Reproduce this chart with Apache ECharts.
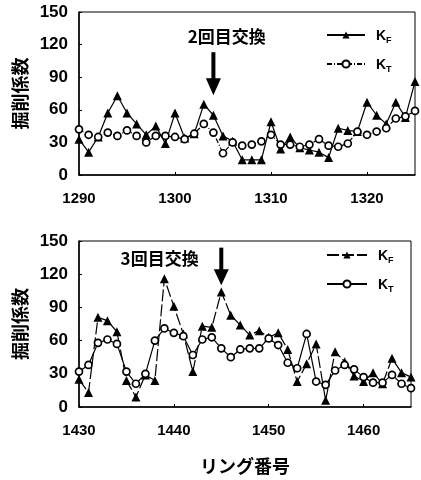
<!DOCTYPE html>
<html><head><meta charset="utf-8">
<script src="https://cdn.jsdelivr.net/npm/echarts@6/dist/echarts.min.js"></script>
<style>html,body{margin:0;padding:0;background:#fff}#c{width:421px;height:480px}</style>
</head><body><div id="c"></div>
<script>
var ringsTop = [1290,1291,1292,1293,1294,1295,1296,1297,1298,1299,1300,1301,1302,1303,1304,1305,1306,1307,1308,1309,1310,1311,1312,1313,1314,1315,1316,1317,1318,1319,1320,1321,1322,1323,1324,1325];
var kfTop = [33,21,35,57,73,57,47,37,45,29,57,34,38,65,55,36,31,14,14,14,49,24,35,25,23,21,16,43,41,40,67,55,47,67,53,86];
var ktTop = [42,37,35,39,36,41,36,30,36,36,35,33,38,47,39,20,30,27,28,31,37,28,28,26,28,33,27,26,29,40,37,40,43,52,54,59];

var ringsBot = [1430,1431,1432,1433,1434,1435,1436,1437,1438,1439,1440,1441,1442,1443,1444,1445,1446,1447,1448,1449,1450,1451,1452,1453,1454,1455,1456,1457,1458,1459,1460,1461,1462,1463,1464,1465];
var kfBot = [25,13,81,78,68,24,9,29,24,116,91,66,32,73,72,104,83,74,65,69,63,67,52,23,39,57,6,50,41,28,23,31,21,44,31,27];
var ktBot = [32,38,58,61,57,32,21,30,60,71,67,64,47,61,63,53,45,52,53,53,62,56,40,35,66,23,20,33,38,34,27,22,22,29,21,17];

var yTicks = [0,30,60,90,120,150];
var xTicksTop = [1290,1300,1310,1320];
var xTicksBot = [1430,1440,1450,1460];
var yTitle = '掘削係数';
var xTitle = 'リング番号';
var note2 = '2回目交換';
var note3 = '3回目交換';
var exch2 = 1304, exch3 = 1445;

function pairs(xs, ys){ return xs.map(function(x,i){ return [x, ys[i]]; }); }

var numFont = '"Liberation Sans", Arial, sans-serif';
var jpFont = '"Noto Sans CJK JP", sans-serif';

function xAxis(gi, min, max, ticks, withName){
  var o = {
    type:'value', gridIndex:gi, min:min, max:max, interval:10,
    axisLine:{show:true, onZero:false, lineStyle:{color:'#000', width:1.5}},
    axisTick:{show:true, inside:true, length:3, lineStyle:{color:'#000'}},
    splitLine:{show:false},
    axisLabel:{show:true, margin:16, color:'#000', fontFamily:numFont, fontWeight:'bold', fontSize:15,
      showMaxLabel:false,
      formatter:function(v){ return ticks.indexOf(v) >= 0 ? String(v) : ''; }}
  };
  if (withName){
    o.name = xTitle; o.nameLocation = 'middle'; o.nameGap = 50;
    o.nameTextStyle = {color:'#000', fontFamily:jpFont, fontWeight:'bold', fontSize:18};
  }
  return o;
}
function yAxis(gi){
  return {
    type:'value', gridIndex:gi, min:0, max:150, interval:30,
    name: yTitle, nameLocation:'middle', nameGap:45, nameRotate:90,
    nameTextStyle:{color:'#000', fontFamily:jpFont, fontWeight:'bold', fontSize:18},
    axisLine:{show:true, lineStyle:{color:'#000', width:1.5}},
    axisTick:{show:true, inside:true, length:3, lineStyle:{color:'#000'}},
    splitLine:{show:false},
    axisLabel:{margin:11, color:'#000', fontFamily:numFont, fontWeight:'bold', fontSize:17,
      formatter:function(v){ return yTicks.indexOf(v) >= 0 ? String(v) : ''; }}
  };
}

var rich = {
  k:{fontFamily:numFont, fontWeight:'bold', fontSize:14, color:'#000', lineHeight:16, verticalAlign:'bottom'},
  s:{fontFamily:numFont, fontWeight:'bold', fontSize:9, color:'#000', lineHeight:16, verticalAlign:'bottom', padding:[0,0,-2,0]}
};
function legendFmt(name){ return name.indexOf('KF') === 0 ? '{k|K}{s|F}' : '{k|K}{s|T}'; }

function triSeries(name, xi, yi, data, lineType){
  return {name:name, type:'line', xAxisIndex:xi, yAxisIndex:yi, data:data,
    symbol:'triangle', symbolSize:9, showSymbol:true,
    itemStyle:{color:'#000', borderColor:'#000', borderWidth:0},
    lineStyle:{color:'#000', width:1.2, type:lineType}, z:3, animation:false};
}
function cirSeries(name, xi, yi, data, lineType){
  return {name:name, type:'line', xAxisIndex:xi, yAxisIndex:yi, data:data,
    symbol:'circle', symbolSize:7, showSymbol:true,
    itemStyle:{color:'#fff', borderColor:'#000', borderWidth:1.7},
    lineStyle:{color:'#000', width:1.2, type:lineType}, z:4, animation:false};
}

var chart = echarts.init(document.getElementById('c'), null, {renderer:'canvas'});
var option = {
  backgroundColor:'#fff',
  animation:false,
  grid:[
    {left:79, right:6, top:12, height:163, show:true, borderColor:'#000', borderWidth:1},
    {left:79, right:10, top:241, height:166, show:true, borderColor:'#000', borderWidth:1}
  ],
  xAxis:[ xAxis(0, ringsTop[0], ringsTop[ringsTop.length-1], xTicksTop, false),
          xAxis(1, ringsBot[0], ringsBot[ringsBot.length-1], xTicksBot, true) ],
  yAxis:[ yAxis(0), yAxis(1) ],
  legend:[
    {data:['KF1','KT1'], orient:'vertical', left:321, top:24, itemWidth:38, itemHeight:9, itemGap:13,
     formatter:legendFmt, textStyle:{rich:rich, padding:[0,0,0,6]}, selectedMode:false},
    {data:['KF2','KT2'], orient:'vertical', left:321, top:244, itemWidth:40, itemHeight:9, itemGap:13,
     formatter:legendFmt, textStyle:{rich:rich, padding:[0,0,0,6]}, selectedMode:false}
  ],
  series:[
    triSeries('KF1', 0, 0, pairs(ringsTop, kfTop), 'solid'),
    cirSeries('KT1', 0, 0, pairs(ringsTop, ktTop), [5,2,1,2]),
    triSeries('KF2', 1, 1, pairs(ringsBot, kfBot), [12,3]),
    cirSeries('KT2', 1, 1, pairs(ringsBot, ktBot), 'solid')
  ]
};
chart.setOption(option);

function arrow(gi, ring, vTop, vTip, headLen){
  var p1 = chart.convertToPixel({gridIndex:gi}, [ring, vTop]);
  var p2 = chart.convertToPixel({gridIndex:gi}, [ring, vTip]);
  var x = p1[0];
  return [
    {type:'rect', shape:{x:x-2, y:p1[1], width:4, height:p2[1]-p1[1]-headLen+2}, style:{fill:'#000'}, z:10},
    {type:'polygon', shape:{points:[[x-7.5, p2[1]-headLen],[x+7.5, p2[1]-headLen],[x, p2[1]]]}, style:{fill:'#000'}, z:10}
  ];
}
function note(gi, ring, v, txt){
  var p = chart.convertToPixel({gridIndex:gi}, [ring, v]);
  return {type:'text', x:p[0], y:p[1], z:10,
    style:{text:txt, fill:'#000', font:'bold 17px "Noto Sans CJK JP", sans-serif', textAlign:'center', textVerticalAlign:'middle'}};
}
var g = [];
g = g.concat(arrow(0, exch2, 113, 73.5, 17));
g = g.concat(arrow(1, exch3, 144, 110, 16));
g.push(note(0, 1305.4, 127, note2));
g.push(note(1, 1438.5, 134, note3));
chart.setOption({graphic:g});
</script>
</body></html>
